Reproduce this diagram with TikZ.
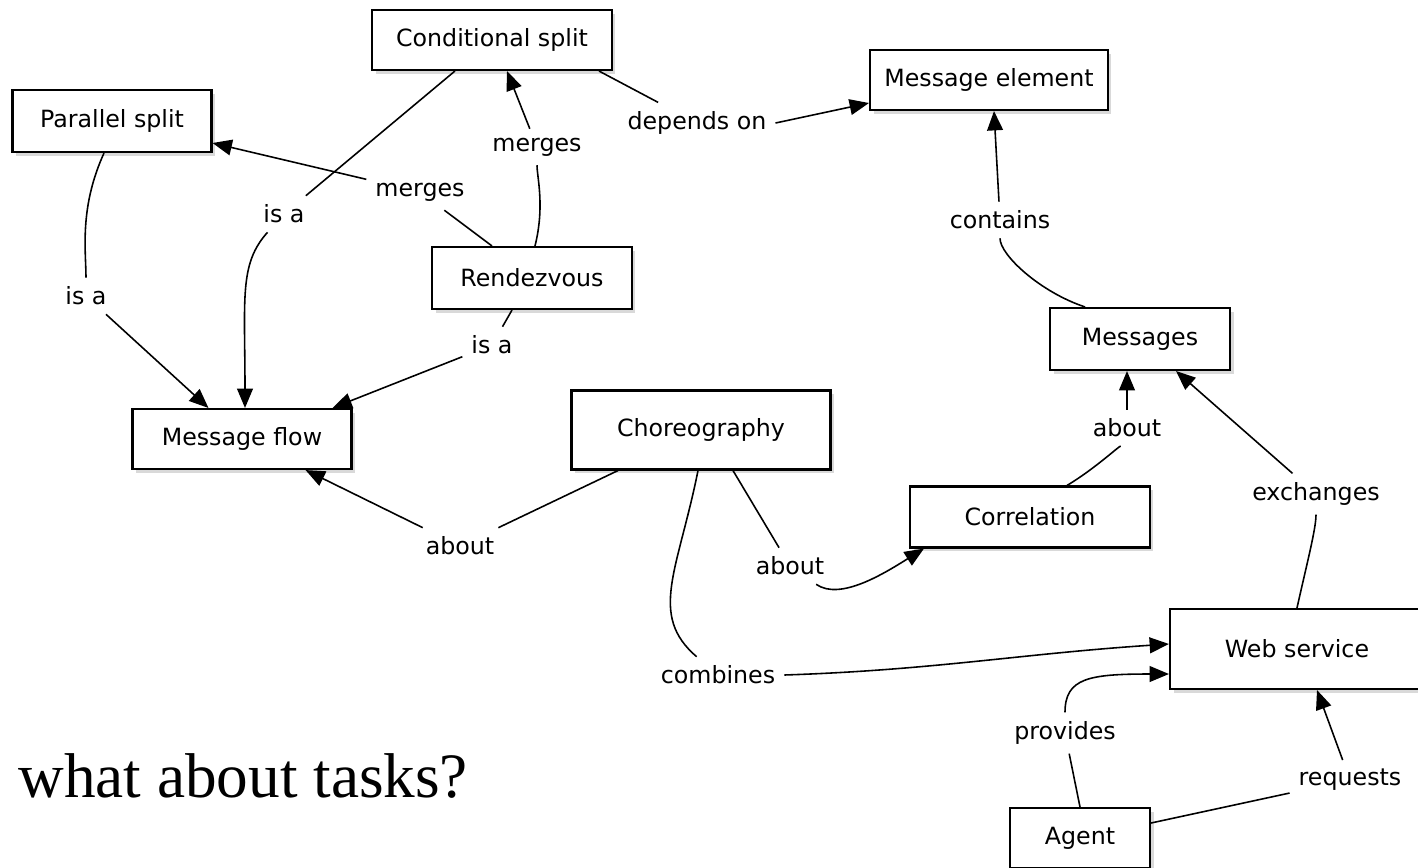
\documentclass[tikz,border=0pt]{standalone}
\usepackage{fontspec}
\setsansfont{DejaVu Sans}
\newfontfamily\tasksfont{Liberation Serif}
\usepackage{tikz}
\usetikzlibrary{arrows.meta,shadows,calc}
\newcommand{\labelsize}[0] {\fontsize{13.5}{16}\selectfont}

\begin{document}
\begin{tikzpicture}[x=0.02cm,y=-0.02cm,
	concept/.style={shape=rectangle,draw=black,line width=1.2pt,fill=white,inner sep=0pt,
		drop shadow={opacity=0.3,shadow xshift=2pt,shadow yshift=-2pt},font=\sffamily\labelsize},
	relation/.style={inner sep=5pt,font=\sffamily\labelsize},
	link/.style={draw=black,line width=0.9pt},
	arrow/.style={link,-{Triangle[length=11pt,width=9pt]}}]
	\useasboundingbox (0,0) rectangle (1418,867);

	\node[concept,minimum width=4.8cm,minimum height=1.2cm] (cond) at (492,40) {Conditional split};
	\node[concept,minimum width=3.98cm,minimum height=1.24cm] (par) at (112,121) {Parallel split};
	\node[concept,minimum width=4.76cm,minimum height=1.2cm] (melem) at (989,80) {Message element};
	\node[concept,minimum width=4cm,minimum height=1.24cm] (rdv) at (532,278) {Rendezvous};
	\node[concept,minimum width=3.6cm,minimum height=1.24cm] (msgs) at (1140,339) {Messages};
	\node[concept,minimum width=4.38cm,minimum height=1.2cm] (mflow) at (242,439) {Message flow};
	\node[concept,minimum width=5.18cm,minimum height=1.58cm] (chor) at (701,430) {Choreography};
	\node[concept,minimum width=4.8cm,minimum height=1.22cm] (corr) at (1030,517) {Correlation};
	\node[concept,minimum width=5.08cm,minimum height=1.6cm] (ws) at (1297,649) {Web service};
	\node[concept,minimum width=2.8cm,minimum height=1.2cm] (agent) at (1080,838) {Agent};

	\node[anchor=base west,inner sep=0pt,font=\tasksfont\fontsize{36}{40}\selectfont] (tasks) at (18,797) {what about tasks?};

	%relation labels
	\node[relation] (isaC) at (284,214) {is a};
	\node[relation] (mergC) at (537,147) {merges};
	\node[relation] (mergP) at (420,192) {merges};
	\node[relation] (dep) at (697,123) {depends on};
	\node[relation] (isaP) at (86,296) {is a};
	\node[relation] (isaR) at (492,345) {is a};
	\node[relation] (cont) at (1000,220) {contains};
	\node[relation] (abM) at (1127,428) {about};
	\node[relation] (exch) at (1316,494) {exchanges};
	\node[relation] (abF) at (460,546) {about};
	\node[relation] (abC) at (790,566) {about};
	\node[relation] (comb) at (718,675) {combines};
	\node[relation] (prov) at (1065,733) {provides};
	\node[relation] (req) at (1350,780) {requests};

	%edges with text
	\draw[link] (cond) -- (isaC);
	\draw[arrow] (isaC) .. controls +(-45,50) and +(0,-110) .. ($(mflow.north)+(3,0)$);
	\draw[link] ($(rdv.north)+(3,0)$) .. controls +(10,-40) and +(0,30) .. (mergC);
	\draw[arrow] (mergC) -- ($(cond.south)+(15,0)$);
	\draw[link] ($(rdv.north)+(-40,0)$) -- (mergP);
	\draw[arrow] (mergP) -- ($(par.east)+(0,22)$);
	\draw[link] ($(cond.south east)+(-14,0)$) -- (dep);
	\draw[arrow] (dep.east) -- ($(melem.west)+(0,23)$);
	\draw[link] ($(par.south)+(-8,0)$) .. controls +(-25,55) and +(0,-45) .. (isaP);
	\draw[arrow] (isaP) -- ($(mflow.north west)+(77,0)$);
	\draw[link] ($(rdv.south)+(-20,0)$) -- (isaR);
	\draw[arrow] (isaR) -- ($(mflow.north east)+(-20,0)$);
	\draw[link] ($(msgs.north)+(-55,0)$) .. controls +(-45,-15) and +(0,35) .. (cont);
	\draw[arrow] (cont) -- ($(melem.south)+(5,0)$);
	\draw[link] ($(corr.north)+(37,0)$) .. controls +(30,-18) and +(-5,15) .. (abM);
	\draw[arrow] (abM) -- ($(msgs.south)+(-13,0)$);
	\draw[link] (ws.north) .. controls +(10,-45) and +(0,35) .. (exch);
	\draw[arrow] (exch) -- ($(msgs.south east)+(-55,0)$);
	\draw[link] ($(chor.south)+(-83,0)$) -- (abF);
	\draw[arrow] (abF) -- ($(mflow.south east)+(-47,0)$);
	\draw[link] ($(chor.south)+(32,0)$) -- (abC);
	\draw[arrow] (abC) .. controls +(50,35) and +(-40,25) .. ($(corr.south west)+(15,0)$);
	\draw[link] ($(chor.south)+(-3,0)$) .. controls +(-20,100) and +(-70,-60) .. (comb);
	\draw[arrow] (comb.east) .. controls +(150,-5) and +(-150,10) .. ($(ws.west)+(0,-5)$);
	\draw[link] (agent.north) -- (prov);
	\draw[arrow] (prov) .. controls +(0,-55) and +(-80,0) .. ($(ws.west)+(0,25)$);
	\draw[link] ($(agent.east)+(0,-15)$) -- (req);
	\draw[arrow] (req) -- ($(ws.south)+(20,0)$);
\end{tikzpicture}
\end{document}
